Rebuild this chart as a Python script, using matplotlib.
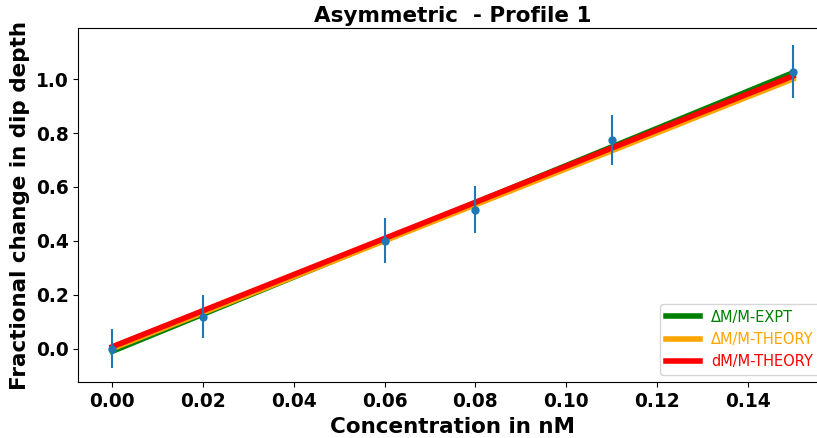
import matplotlib
matplotlib.use("Agg")
import matplotlib.pyplot as plt

# Measured fractional change in dip depth vs concentration
conc = [0.00, 0.02, 0.06, 0.08, 0.11, 0.15]
frac_change = [0.00, 0.118, 0.401, 0.516, 0.775, 1.028]
frac_err = [0.071, 0.080, 0.084, 0.086, 0.093, 0.098]

# Linear fit lines evaluated at the ends of the concentration range
fit_x = [0.00, 0.15]
expt_fit = [-0.010, 1.024]
theory_fit = [0.000, 1.001]
dtheory_fit = [0.007, 1.012]

fig = plt.figure(figsize=(8.17, 4.38), dpi=100)
# axes extend slightly past the right edge of the canvas
ax = fig.add_axes([0.0958, 0.1272, 0.9166, 0.8089])

ax.errorbar(conc, frac_change, yerr=frac_err, fmt='o', color='#1f77b4',
            markersize=5, elinewidth=1.5, zorder=3)
ax.plot(fit_x, expt_fit, color='green', linewidth=4, label='ΔM/M-EXPT', zorder=2)
ax.plot(fit_x, theory_fit, color='orange', linewidth=4, label='ΔM/M-THEORY', zorder=2)
ax.plot(fit_x, dtheory_fit, color='red', linewidth=4, label='dM/M-THEORY', zorder=2)

ax.set_xlim(-0.0075, 0.1575)
ax.set_ylim(-0.125, 1.19)
ax.set_xticks([0.00, 0.02, 0.04, 0.06, 0.08, 0.10, 0.12, 0.14])
ax.set_yticks([0.0, 0.2, 0.4, 0.6, 0.8, 1.0])
ax.set_xticklabels([f"{v:.2f}" for v in ax.get_xticks()])
ax.set_yticklabels([f"{v:.1f}" for v in ax.get_yticks()])
for lbl in ax.get_xticklabels() + ax.get_yticklabels():
    lbl.set_fontweight('bold')
    lbl.set_fontsize(13.4)

ax.set_xlabel('Concentration in nM', fontsize=15.5, fontweight='bold', labelpad=4)
ax.set_ylabel('Fractional change in dip depth', fontsize=15.5, fontweight='bold')
ax.set_title('Asymmetric  - Profile 1', fontsize=15.5, fontweight='bold', pad=4)

leg = ax.legend(loc='lower right', fontsize=10.5, handlelength=2.3)
for text, line in zip(leg.get_texts(), leg.get_lines()):
    text.set_color(line.get_color())

fig.savefig('out.png', dpi=100)
